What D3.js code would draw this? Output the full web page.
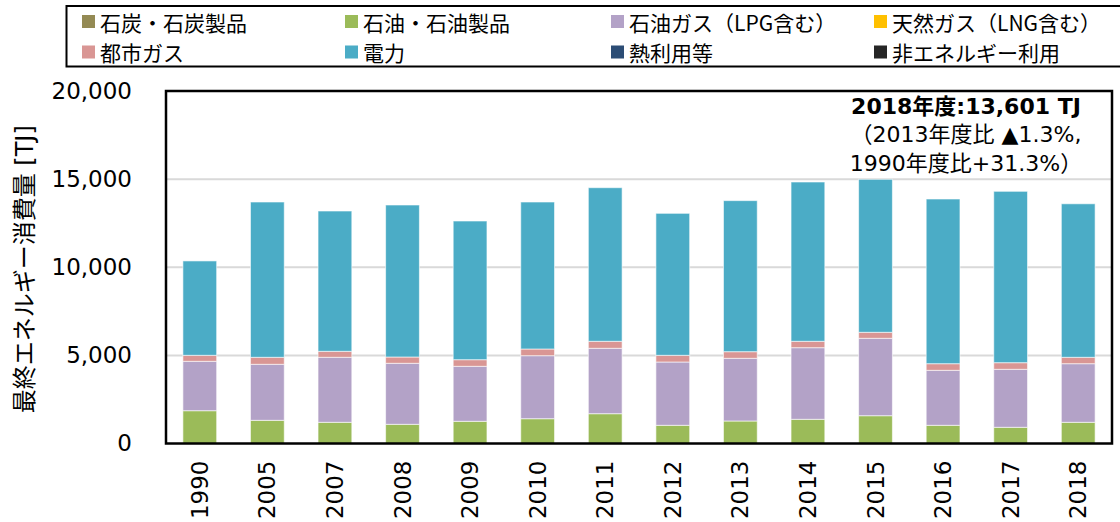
<!DOCTYPE html>
<html>
<head>
<meta charset="utf-8">
<script src="https://cdn.jsdelivr.net/npm/d3@7"></script>
<style>
  html, body { margin: 0; padding: 0; background: #fff; }
  #page { width: 1120px; height: 522px; }
  text { fill: #000; }
</style>
</head>
<body>
<div id="page"></div>
<script>
(function( d3 ) {

  "use strict";

  var years = [ "1990", "2005", "2007", "2008", "2009", "2010", "2011",
    "2012", "2013", "2014", "2015", "2016", "2017", "2018" ];

  var coal        = [ 0, 0, 0, 0, 0, 0, 0, 0, 0, 0, 0, 0, 0, 0 ],
    oil           = [ 1861, 1316, 1203, 1089, 1260, 1407, 1691, 1033, 1277, 1373, 1577, 1033, 919, 1203 ],
    lpg           = [ 2803, 3178, 3688, 3462, 3120, 3575, 3711, 3591, 3557, 4063, 4392, 3120, 3291, 3325 ],
    naturalGas    = [ 0, 0, 0, 0, 0, 0, 0, 0, 0, 0, 0, 0, 0, 0 ],
    cityGas       = [ 340, 397, 340, 357, 375, 380, 397, 380, 375, 363, 341, 375, 375, 363 ],
    electricity   = [ 5355, 8811, 7960, 8624, 7869, 8340, 8715, 8056, 8571, 9038, 8680, 9344, 9724, 8710 ],
    heat          = [ 0, 0, 0, 0, 0, 0, 0, 0, 0, 0, 0, 0, 0, 0 ],
    nonEnergy     = [ 0, 0, 0, 0, 0, 0, 0, 0, 0, 0, 0, 0, 0, 0 ];

  var seriesNames = [ "石炭・石炭製品", "石油・石油製品", "石油ガス（LPG含む）", "天然ガス（LNG含む）",
    "都市ガス", "電力", "熱利用等", "非エネルギー利用" ];

  var seriesColors = [ "#948a54", "#9bbb59", "#b3a2c7", "#ffc000",
    "#d99694", "#4bacc6", "#2c4d75", "#262626" ];

  var yTicks = [ 0, 5000, 10000, 15000, 20000 ];

  var noteLines = [ "2018年度:13,601 TJ", "（2013年度比 ▲1.3%,", "1990年度比+31.3%）" ];

  /* * * * * * * * * * * * * * * * * * * */

  var seriesValues = [ coal, oil, lpg, naturalGas, cityGas, electricity, heat, nonEnergy ];

  var rows = years.map(function( y, i ) {
    var row = { year: y };
    seriesNames.forEach(function( name, k ) {
      row[ name ] = seriesValues[ k ][ i ];
    });
    return row;
  });

  var W = 1120,
    H = 522,
    left = 166,
    right = 1112,
    top = 91,
    bottom = 443.5,
    numFont = "'DejaVu Sans', Verdana, 'Noto Sans CJK JP', sans-serif";

  var svg = d3.select( "#page" ).append( "svg" )
    .attr( "width", W )
    .attr( "height", H );

  var x = d3.scaleBand()
    .domain( years )
    .range([ left, right ])
    .paddingInner( 0.5 )
    .paddingOuter( 0.25 );

  var y = d3.scaleLinear()
    .domain([ 0, 20000 ])
    .range([ bottom, top ]);

  /* * * * * * * * * * * * * * * * * * * */

  // gridlines
  svg.append( "g" )
    .selectAll( "line" )
    .data( yTicks.slice( 1, -1 ) )
    .join( "line" )
    .attr( "x1", left )
    .attr( "x2", right )
    .attr( "y1", function( d ) { return y( d ); } )
    .attr( "y2", function( d ) { return y( d ); } )
    .attr( "stroke", "#d9d9d9" )
    .attr( "stroke-width", 2 );

  // stacked bars
  var stacked = d3.stack().keys( seriesNames )( rows );

  svg.append( "g" )
    .selectAll( "g" )
    .data( stacked )
    .join( "g" )
    .attr( "fill", function( s, k ) { return seriesColors[ k ]; } )
    .selectAll( "rect" )
    .data( function( s ) { return s.filter(function( d ) { return d[1] > d[0]; }); } )
    .join( "rect" )
    .attr( "x", function( d ) { return x( d.data.year ); } )
    .attr( "width", x.bandwidth() )
    .attr( "y", function( d ) { return y( d[1] ); } )
    .attr( "height", function( d ) { return y( d[0] ) - y( d[1] ); } )
    .attr( "stroke", "rgba(255,255,255,0.6)" )
    .attr( "stroke-width", 1 );

  // plot frame
  svg.append( "rect" )
    .attr( "x", left )
    .attr( "y", top )
    .attr( "width", right - left )
    .attr( "height", bottom - top )
    .attr( "fill", "none" )
    .attr( "stroke", "#000" )
    .attr( "stroke-width", 2.5 );

  /* * * * * * * * * * * * * * * * * * * */

  var yAxis = svg.append( "g" )
    .attr( "transform", "translate(" + left + ",0)" )
    .call( d3.axisLeft( y ).tickValues( yTicks ).tickFormat( d3.format( "," ) ).tickSize( 0 ).tickPadding( 34 ) );

  yAxis.select( ".domain" ).remove();
  yAxis.selectAll( "text" )
    .attr( "font-family", numFont )
    .attr( "font-size", 23 )
    .attr( "fill", "#000" );

  var xAxis = svg.append( "g" )
    .attr( "transform", "translate(0," + bottom + ")" )
    .call( d3.axisBottom( x ).tickSize( 0 ).tickPadding( 0 ) );

  xAxis.select( ".domain" ).remove();
  xAxis.selectAll( "text" )
    .attr( "font-family", numFont )
    .attr( "font-size", 23 )
    .attr( "fill", "#000" )
    .attr( "text-anchor", "end" )
    .attr( "dy", null )
    .attr( "y", 0 )
    .attr( "dominant-baseline", "central" )
    .attr( "transform", "translate(0,17) rotate(-90)" );

  svg.append( "text" )
    .attr( "transform", "translate(25," + ( ( top + bottom ) / 2 + 2 ) + ") rotate(-90)" )
    .attr( "text-anchor", "middle" )
    .attr( "dominant-baseline", "central" )
    .attr( "font-family", numFont )
    .attr( "font-size", 24 )
    .text( "最終エネルギー消費量 [TJ]" );

  /* * * * * * * * * * * * * * * * * * * */

  // annotation
  svg.append( "g" )
    .selectAll( "text" )
    .data( noteLines )
    .join( "text" )
    .attr( "x", 966 )
    .attr( "y", function( d, i ) { return 106 + i * 28.5; } )
    .attr( "text-anchor", "middle" )
    .attr( "dominant-baseline", "central" )
    .attr( "font-family", numFont )
    .attr( "font-size", 22 )
    .attr( "font-weight", function( d, i ) { return i === 0 ? "bold" : "normal"; } )
    .text( function( d ) { return d; } );

  /* * * * * * * * * * * * * * * * * * * */

  // legend
  var legend = svg.append( "g" );

  legend.append( "rect" )
    .attr( "x", 66.5 )
    .attr( "y", 6 )
    .attr( "width", 1100 )
    .attr( "height", 60.5 )
    .attr( "fill", "#fff" )
    .attr( "stroke", "#000" )
    .attr( "stroke-width", 2 );

  var colX = [ 82, 345, 611, 874 ],
    rowY = [ 21.5, 52 ];

  var item = legend.selectAll( "g.item" )
    .data( seriesNames )
    .join( "g" )
    .attr( "class", "item" )
    .attr( "transform", function( d, i ) {
      return "translate(" + colX[ i % 4 ] + "," + rowY[ Math.floor( i / 4 ) ] + ")";
    });

  item.append( "rect" )
    .attr( "x", 0 )
    .attr( "y", -6.5 )
    .attr( "width", 13 )
    .attr( "height", 13 )
    .attr( "fill", function( d, i ) { return seriesColors[ i ]; } );

  item.append( "text" )
    .attr( "x", 18 )
    .attr( "y", 0 )
    .attr( "dominant-baseline", "central" )
    .attr( "font-family", "'Noto Sans CJK JP', sans-serif" )
    .attr( "font-size", 21 )
    .text( function( d ) { return d; } );

})( window.d3 );
</script>
</body>
</html>
